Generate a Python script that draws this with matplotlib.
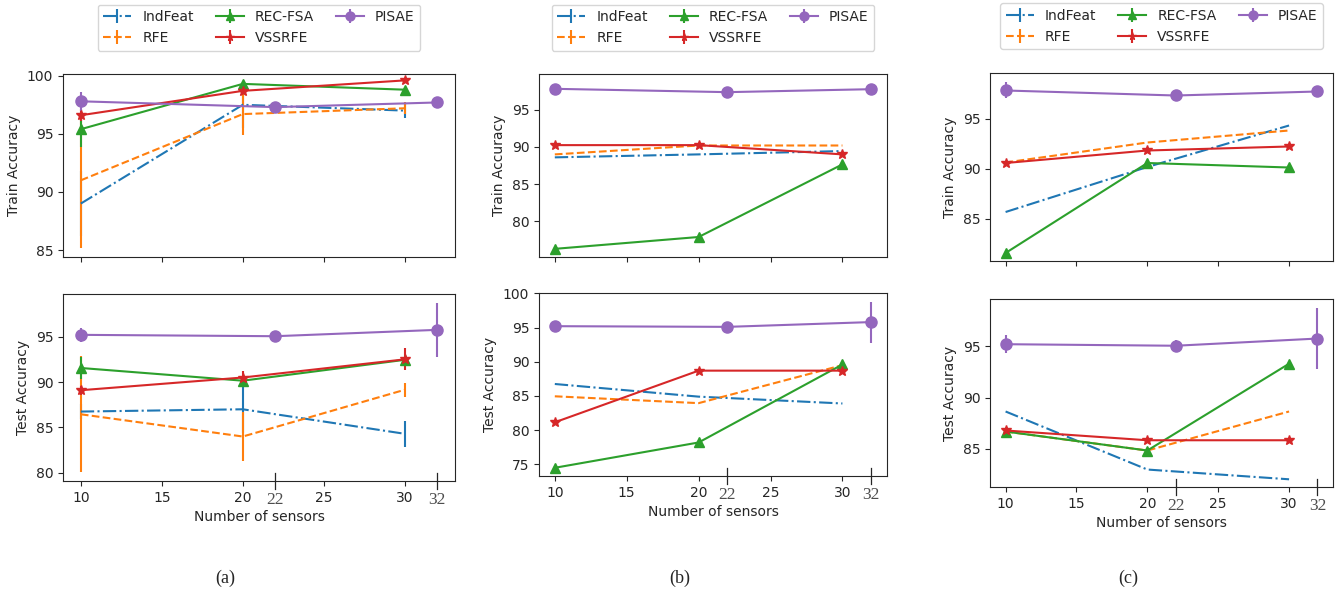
import numpy as np
import matplotlib.pyplot as plt

# sensor counts
x_base = [10, 20, 30]
x_pisae = [10, 22, 32]

methods = ["IndFeat", "RFE", "REC-FSA", "VSSRFE", "PISAE"]

# (a) train / test accuracy: mean values and error half-widths
train_a = {"IndFeat": [89.0, 97.5, 97.0], "RFE": [91.0, 96.7, 97.2],
           "REC-FSA": [95.4, 99.3, 98.8], "VSSRFE": [96.6, 98.7, 99.6],
           "PISAE": [97.8, 97.3, 97.7]}
train_a_err = {"IndFeat": [2.8, 2.0, 0.6], "RFE": [5.8, 1.8, 0.5],
               "REC-FSA": [1.5, 0.2, 0.2], "VSSRFE": [0.5, 0.3, 0.2],
               "PISAE": [0.8, 0.2, 0.5]}
test_a = {"IndFeat": [86.75, 87.0, 84.3], "RFE": [86.45, 84.0, 89.15],
          "REC-FSA": [91.55, 90.15, 92.45], "VSSRFE": [89.1, 90.5, 92.5],
          "PISAE": [95.2, 95.05, 95.75]}
test_a_err = {"IndFeat": [0.8, 2.6, 1.4], "RFE": [6.4, 2.7, 0.8],
              "REC-FSA": [1.2, 0.3, 0.3], "VSSRFE": [0.5, 0.7, 1.2],
              "PISAE": [0.8, 0.5, 3.0]}

# (b)
train_b = {"IndFeat": [88.6, 89.0, 89.45], "RFE": [89.0, 90.2, 90.2],
           "REC-FSA": [76.25, 77.85, 87.65], "VSSRFE": [90.25, 90.25, 89.0],
           "PISAE": [97.85, 97.4, 97.8]}
train_b_err = {"IndFeat": [0, 0, 0], "RFE": [0, 0, 0],
               "REC-FSA": [0, 0, 0], "VSSRFE": [0, 0, 0],
               "PISAE": [0.6, 0.2, 0.2]}
test_b = {"IndFeat": [86.75, 84.9, 83.9], "RFE": [84.95, 83.95, 89.5],
          "REC-FSA": [74.5, 78.2, 89.6], "VSSRFE": [81.15, 88.7, 88.7],
          "PISAE": [95.2, 95.1, 95.8]}
test_b_err = {"IndFeat": [0, 0, 0], "RFE": [0, 0, 0],
              "REC-FSA": [0, 0, 0], "VSSRFE": [0, 0, 0],
              "PISAE": [0.6, 0.3, 3.0]}

# (c)
train_c = {"IndFeat": [85.7, 90.2, 94.35], "RFE": [90.65, 92.65, 93.85],
           "REC-FSA": [81.6, 90.6, 90.15], "VSSRFE": [90.6, 91.85, 92.25],
           "PISAE": [97.85, 97.35, 97.75]}
train_c_err = {"IndFeat": [0, 0, 0], "RFE": [0, 0, 0],
               "REC-FSA": [0, 0, 0], "VSSRFE": [0, 0, 0],
               "PISAE": [0.8, 0.2, 0.4]}
test_c = {"IndFeat": [88.65, 83.0, 82.05], "RFE": [86.7, 84.85, 88.65],
          "REC-FSA": [86.7, 84.85, 93.3], "VSSRFE": [86.8, 85.85, 85.85],
          "PISAE": [95.2, 95.05, 95.75]}
test_c_err = {"IndFeat": [0, 0, 0], "RFE": [0, 0, 0],
              "REC-FSA": [0, 0, 0], "VSSRFE": [0, 0, 0],
              "PISAE": [0.9, 0.6, 3.0]}

styles = {
    "IndFeat": dict(color="#1f77b4", ls="-.", marker=None),
    "RFE": dict(color="#ff7f0e", ls="--", marker=None),
    "REC-FSA": dict(color="#2ca02c", ls="-", marker="^"),
    "VSSRFE": dict(color="#d62728", ls="-", marker="*"),
    "PISAE": dict(color="#9467bd", ls="-", marker="o"),
}

plt.rcParams.update({
    "font.family": "DejaVu Sans",
    "font.size": 10,
    "text.color": ".15",
    "axes.labelcolor": ".15",
    "axes.edgecolor": ".15",
    "xtick.color": ".15",
    "ytick.color": ".15",
    "xtick.direction": "out",
    "ytick.direction": "out",
})

W, H = 1339, 595
fig = plt.figure(figsize=(W / 100, H / 100), dpi=100)


def add_axes_px(left, right, top, bottom):
    return fig.add_axes([left / W, 1 - bottom / H, (right - left) / W, (bottom - top) / H])


def draw_series(ax, vals, errs):
    for m in methods:
        st = styles[m]
        xs = x_pisae if m == "PISAE" else x_base
        ax.errorbar(xs, vals[m], yerr=errs[m], color=st["color"], ls=st["ls"],
                    marker=st["marker"], ms=8 if m == "PISAE" else 7, lw=1.5,
                    elinewidth=1.5, capsize=0, label=m)


def extra_ticks(ax):
    # the hand-added marks for PISAE sensor counts
    tr = ax.get_xaxis_transform()
    for xv in [22, 32]:
        ax.plot([xv, xv], [-0.045, 0.045], color=".15", lw=0.9,
                transform=tr, clip_on=False)
        ax.text(xv, -0.06, str(xv), transform=tr, ha="center", va="top",
                family="Liberation Serif", fontsize=12.5, color=".3")


panels = [
    ((63, 455, 74, 257), (63, 455, 294, 481), train_a, train_a_err, test_a, test_a_err,
     (84.4, 100.15), (79.1, 99.7), "(a)"),
    ((539, 887, 74, 257), (539, 887, 293, 476), train_b, train_b_err, test_b, test_b_err,
     (75.15, 99.85), (73.3, 100.05), "(b)"),
    ((990, 1333, 73, 261), (990, 1333, 299, 487), train_c, train_c_err, test_c, test_c_err,
     (80.8, 99.6), (81.3, 99.6), "(c)"),
]

for box_top, box_bot, tr_v, tr_e, te_v, te_e, ylim_top, ylim_bot, cap in panels:
    ax1 = add_axes_px(*box_top)
    ax2 = add_axes_px(*box_bot)
    draw_series(ax1, tr_v, tr_e)
    draw_series(ax2, te_v, te_e)
    for ax in (ax1, ax2):
        ax.set_xlim(8.9, 33.1)
        ax.set_xticks([10, 15, 20, 25, 30])
    ax1.set_xticklabels([])
    ax1.set_ylim(*ylim_top)
    ax2.set_ylim(*ylim_bot)
    ax1.set_ylabel("Train Accuracy")
    ax2.set_ylabel("Test Accuracy")
    ax2.set_xlabel("Number of sensors", labelpad=4)
    extra_ticks(ax2)
    ax1.legend(loc="lower center", bbox_to_anchor=(0.5, 1.09), ncol=3,
               frameon=True, fontsize=10, handlelength=2, columnspacing=1.6,
               markerscale=0.8)
    cx = (box_top[0] + box_top[1]) / 2 / W
    fig.text(cx - 0.025, 1 - 578 / H, cap, ha="center", va="center",
             family="Liberation Serif", fontsize=13)

fig.savefig("out.png", dpi=100)
